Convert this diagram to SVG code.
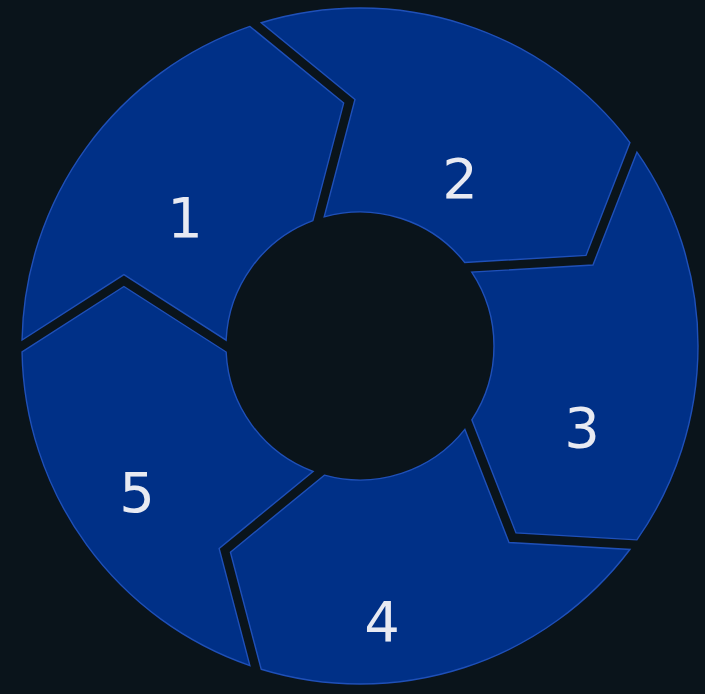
<svg xmlns="http://www.w3.org/2000/svg" xmlns:xlink="http://www.w3.org/1999/xlink" width="705" height="694" viewBox="0 0 705 694">
  <style>
    .seg { fill: #003087; stroke: #1f50b8; stroke-width: 1.4; stroke-linejoin: miter; }
    .lbl { font-family: "DejaVu Sans", "Liberation Sans", sans-serif; font-size: 56px; fill: #e8eaf2; text-anchor: middle; }
  </style>
  <defs>
    <path id="seg" d="M 110.12 -319.56 A 338 338 0 0 1 337.95 -5.91 L 236.09 59.53 L 133.86 -6.03 A 134 134 0 0 0 46.94 -125.51 L 140.88 -202.46 Z"/>
  </defs>
  <rect x="0" y="0" width="705" height="694" fill="#0a141b"/>
  <g id="connectors"></g>
  <g id="node-1">
    <use class="seg" href="#seg" xlink:href="#seg" transform="translate(360,346) rotate(-108)"/>
    <text class="lbl" x="185" y="237">1</text>
  </g>
  <g id="node-2">
    <use class="seg" href="#seg" xlink:href="#seg" transform="translate(360,346) rotate(-36)"/>
    <text class="lbl" x="460" y="198">2</text>
  </g>
  <g id="node-3">
    <use class="seg" href="#seg" xlink:href="#seg" transform="translate(360,346) rotate(36)"/>
    <text class="lbl" x="582" y="447">3</text>
  </g>
  <g id="node-4">
    <use class="seg" href="#seg" xlink:href="#seg" transform="translate(360,346) rotate(108)"/>
    <text class="lbl" x="382" y="641">4</text>
  </g>
  <g id="node-5">
    <use class="seg" href="#seg" xlink:href="#seg" transform="translate(360,346) rotate(180)"/>
    <text class="lbl" x="137" y="512">5</text>
  </g>
</svg>
